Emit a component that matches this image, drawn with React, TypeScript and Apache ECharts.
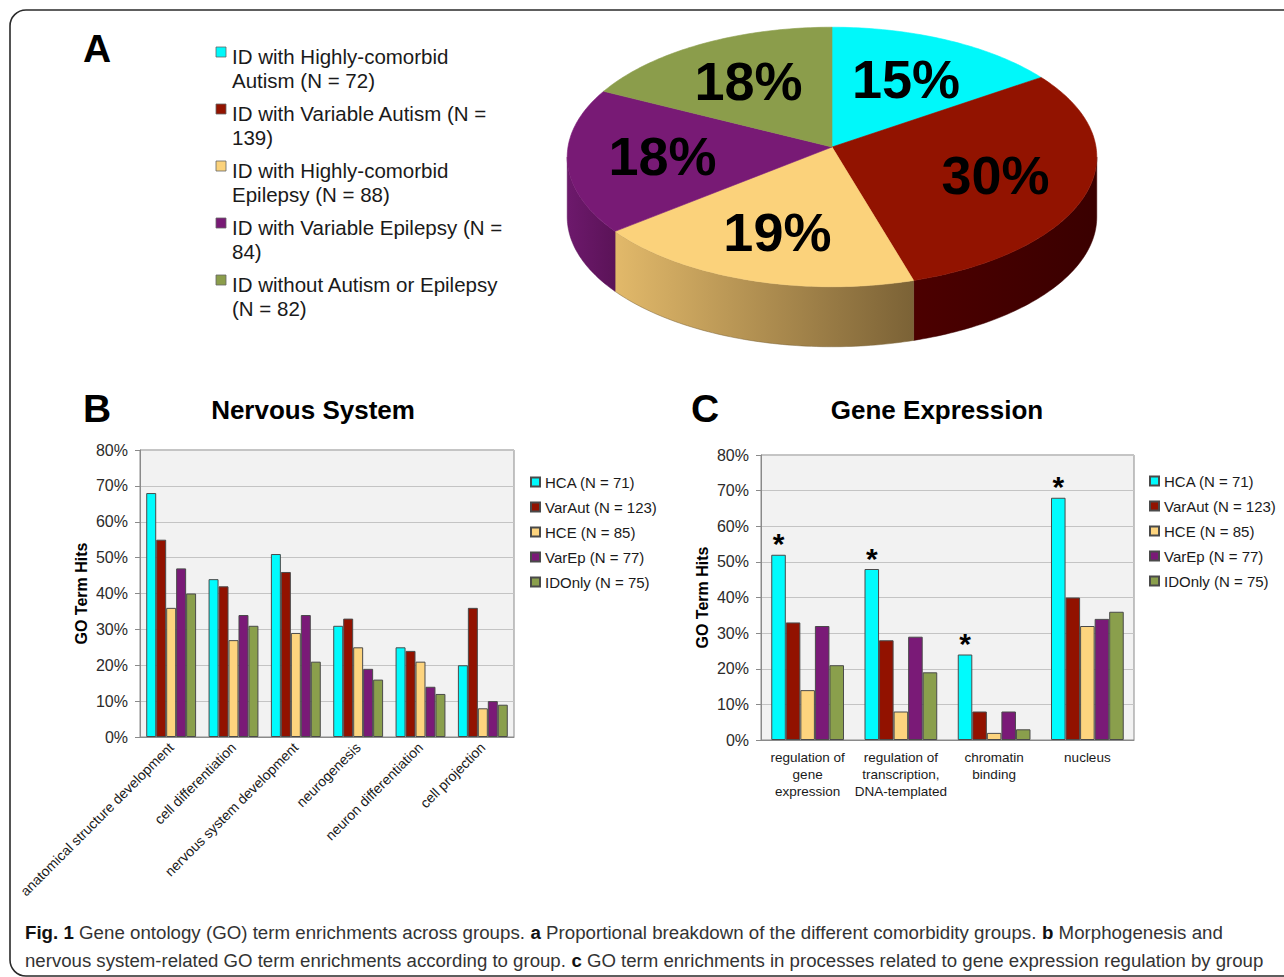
import React, { useEffect, useRef } from 'react';
import * as echarts from 'echarts';

// ---------- Panel A data ----------
const groupLabels = [
  'ID with Highly-comorbid\nAutism (N = 72)',
  'ID with Variable Autism (N =\n139)',
  'ID with Highly-comorbid\nEpilepsy (N = 88)',
  'ID with Variable Epilepsy (N =\n84)',
  'ID without Autism or Epilepsy\n(N = 82)',
];
const groupN = [72, 139, 88, 84, 82];

// ---------- Panels B & C data ----------
const seriesNames = ['HCA (N = 71)', 'VarAut (N = 123)', 'HCE (N = 85)', 'VarEp (N = 77)', 'IDOnly (N = 75)'];

const nervousCategories = [
  'anatomical structure development',
  'cell differentiation',
  'nervous system development',
  'neurogenesis',
  'neuron differentiation',
  'cell projection',
];
const nervousHCA = [68, 44, 51, 31, 25, 20];
const nervousVarAut = [55, 42, 46, 33, 24, 36];
const nervousHCE = [36, 27, 29, 25, 21, 8];
const nervousVarEp = [47, 34, 34, 19, 14, 10];
const nervousIDOnly = [40, 31, 21, 16, 12, 9];

const geneCategories = [
  'regulation of\ngene\nexpression',
  'regulation of\ntranscription,\nDNA-templated',
  'chromatin\nbinding',
  'nucleus',
];
const geneHCA = [52, 48, 24, 68];
const geneVarAut = [33, 28, 8, 40];
const geneHCE = [14, 8, 2, 32];
const geneVarEp = [32, 29, 8, 34];
const geneIDOnly = [21, 19, 3, 36];
const geneSignificant = [true, true, true, true];

const yMin = 0;
const yMax = 80;
const yStep = 10;

const captionLine1 =
  '{b|Fig. 1} Gene ontology (GO) term enrichments across groups. {b|a} Proportional breakdown of the different comorbidity groups. {b|b} Morphogenesis and';
const captionLine2 =
  'nervous system-related GO term enrichments according to group. {b|c} GO term enrichments in processes related to gene expression regulation by group';

// ---------- styles ----------
const FONT = '"Liberation Sans", Arial, Helvetica, sans-serif';
const barColors = ['#00fbfd', '#921200', '#fdd47e', '#7a1a77', '#8a9f4c'];
const pieTop = ['#00f8fa', '#921300', '#fbd27b', '#781a75', '#8b9d4b'];
const pieSide = [
  ['#00b5b8', '#008d90'],
  ['#4c0000', '#3a0000'],
  ['#e2b96a', '#7b6236'],
  ['#6d196c', '#5b1358'],
  ['#6e7e3b', '#5a682f'],
];

const PIE = { cx: 832, cy: 147, R: 264, T: 129, d: 13, depth: 60 };

function piePt(a: number, k = 1, dy = 0): number[] {
  const s = PIE.d / (PIE.d + Math.cos(a));
  return [PIE.cx + PIE.R * k * Math.sin(a) * s, PIE.cy - PIE.T * k * Math.cos(a) * s + dy];
}

function arc(a0: number, a1: number, dy = 0): number[][] {
  const n = Math.max(2, Math.ceil((a1 - a0) / (Math.PI / 180)));
  const pts: number[][] = [];
  for (let i = 0; i <= n; i++) pts.push(piePt(a0 + ((a1 - a0) * i) / n, 1, dy));
  return pts;
}

const renderPie = (params: any, api: any) => {
  const i = params.dataIndex;
  const total = groupN.reduce((s, v) => s + v, 0);
  let start = 0;
  for (let j = 0; j < i; j++) start += groupN[j];
  const v = api.value(0);
  const a0 = (start / total) * Math.PI * 2;
  const a1 = ((start + v) / total) * Math.PI * 2;
  const children: any[] = [];
  const silL = Math.acos(-1 / PIE.d);
  const silR = Math.PI * 2 - silL;
  const b0 = Math.max(a0, silL);
  const b1 = Math.min(a1, silR);
  if (b1 > b0) {
    const topArc = arc(b0, b1);
    const botArc = arc(b0, b1, PIE.depth).reverse();
    children.push({
      type: 'polygon',
      z2: 1,
      shape: { points: topArc.concat(botArc) },
      style: {
        fill: {
          type: 'linear', x: 0, y: 0, x2: 1, y2: 0,
          colorStops: [
            { offset: 0, color: pieSide[i][0] },
            { offset: 1, color: pieSide[i][1] },
          ],
        },
        stroke: pieSide[i][1],
        lineWidth: 0.5,
      },
    });
  }
  const top = [[PIE.cx, PIE.cy]].concat(arc(a0, a1));
  children.push({
    type: 'polygon',
    z2: 5,
    shape: { points: top },
    style: { fill: pieTop[i], stroke: pieTop[i], lineWidth: 0.6 },
  });
  const mid = (a0 + a1) / 2;
  const lp = piePt(mid, 0.64);
  children.push({
    type: 'text',
    z2: 10,
    style: {
      text: Math.round((v / total) * 100) + '%',
      x: lp[0],
      y: lp[1],
      fill: '#000',
      fontSize: 54,
      fontWeight: 'bold',
      fontFamily: FONT,
      align: 'center',
      verticalAlign: 'middle',
    },
  });
  return { type: 'group', children };
};

function buildOption(): any {
  const nervousSeries = [nervousHCA, nervousVarAut, nervousHCE, nervousVarEp, nervousIDOnly];
  const geneSeries = [geneHCA, geneVarAut, geneHCE, geneVarEp, geneIDOnly];

  const graphic: any[] = [
    {
      type: 'rect',
      shape: { x: 10, y: 10, width: 1300, height: 966, r: 16 },
      style: { fill: 'none', stroke: '#2a2a2a', lineWidth: 1.6 },
      silent: true,
    },
    { type: 'text', x: 97, y: 48, style: { text: 'A', font: `bold 39px ${FONT}`, fill: '#000', align: 'center', verticalAlign: 'middle' } },
    { type: 'text', x: 97, y: 408, style: { text: 'B', font: `bold 39px ${FONT}`, fill: '#000', align: 'center', verticalAlign: 'middle' } },
    { type: 'text', x: 705, y: 408, style: { text: 'C', font: `bold 39px ${FONT}`, fill: '#000', align: 'center', verticalAlign: 'middle' } },
    { type: 'text', x: 313, y: 410, style: { text: 'Nervous System', font: `bold 26px ${FONT}`, fill: '#000', align: 'center', verticalAlign: 'middle' } },
    { type: 'text', x: 937, y: 410, style: { text: 'Gene Expression', font: `bold 26px ${FONT}`, fill: '#000', align: 'center', verticalAlign: 'middle' } },
  ];
  groupLabels.forEach((lab, i) => {
    graphic.push({
      type: 'rect',
      shape: { x: 216, y: 47 + 57 * i, width: 10, height: 10 },
      style: { fill: pieTop[i], stroke: '#666', lineWidth: 0.8 },
    });
    graphic.push({
      type: 'text',
      x: 232,
      y: 44 + 57 * i,
      style: { text: lab, font: `20.5px ${FONT}`, lineHeight: 24, fill: '#1a1a1a', align: 'left', verticalAlign: 'top' },
    });
  });
  const capRich = { b: { fontWeight: 'bold', fill: '#111', color: '#111', fontSize: 19, fontFamily: FONT } };
  graphic.push({
    type: 'text', x: 25, y: 932, scaleX: 0.985,
    style: { text: captionLine1, rich: capRich, fontSize: 19, fontFamily: FONT, fill: '#333', align: 'left', verticalAlign: 'middle' },
  });
  graphic.push({
    type: 'text', x: 25, y: 960, scaleX: 0.98,
    style: { text: captionLine2, rich: capRich, fontSize: 19, fontFamily: FONT, fill: '#333', align: 'left', verticalAlign: 'middle' },
  });

  const yAxisBase = (gridIndex: number) => ({
    type: 'value',
    gridIndex,
    min: yMin,
    max: yMax,
    interval: yStep,
    name: 'GO Term Hits',
    nameLocation: 'middle',
    nameGap: 51,
    nameRotate: 90,
    nameTextStyle: { fontSize: 16, fontWeight: 'bold', color: '#000', fontFamily: FONT },
    axisLine: { show: true, lineStyle: { color: '#8a8a8a' } },
    axisTick: { show: true, length: 5, lineStyle: { color: '#8a8a8a' } },
    axisLabel: { formatter: '{value}%', fontSize: 16, color: '#2b2b2b', margin: 12, fontFamily: FONT },
    splitLine: { show: true, lineStyle: { color: '#c4c4c4', width: 1 } },
  });

  const barBase = {
    type: 'bar',
    barGap: '0%',
    itemStyle: { borderColor: '#4a4a4a', borderWidth: 1 },
  };

  const series: any[] = [
    {
      type: 'custom',
      name: 'groups',
      coordinateSystem: 'none',
      renderItem: renderPie,
      data: groupN,
      silent: true,
    },
  ];
  nervousSeries.forEach((d, k) => {
    series.push({
      ...barBase,
      name: seriesNames[k],
      xAxisIndex: 0,
      yAxisIndex: 0,
      barCategoryGap: '20%',
      data: d,
      itemStyle: { ...barBase.itemStyle, color: barColors[k] },
    });
  });
  geneSeries.forEach((d, k) => {
    series.push({
      ...barBase,
      name: seriesNames[k],
      xAxisIndex: 1,
      yAxisIndex: 1,
      barCategoryGap: '22%',
      data: d,
      itemStyle: { ...barBase.itemStyle, color: barColors[k] },
      label:
        k === 0
          ? {
              show: true,
              position: 'top',
              distance: -4,
              formatter: (p: any) => (geneSignificant[p.dataIndex] ? '*' : ''),
              fontSize: 30,
              fontWeight: 'bold',
              color: '#000',
              fontFamily: FONT,
            }
          : { show: false },
    });
  });

  const legendBase = {
    data: seriesNames,
    orient: 'vertical',
    itemWidth: 9,
    itemHeight: 9,
    itemGap: 9,
    padding: 0,
    icon: 'rect',
    selectedMode: false,
    textStyle: { fontSize: 15, color: '#1a1a1a', lineHeight: 16, fontFamily: FONT },
  };

  return {
    animation: false,
    backgroundColor: '#ffffff',
    textStyle: { fontFamily: FONT },
    graphic,
    legend: [
      { ...legendBase, left: 530, top: 474 },
      { ...legendBase, left: 1149, top: 473 },
    ],
    grid: [
      { left: 140, top: 450, width: 374, height: 287, show: true, backgroundColor: '#f2f2f2', borderColor: '#8a8a8a', borderWidth: 1 },
      { left: 761, top: 455, width: 373, height: 285, show: true, backgroundColor: '#f2f2f2', borderColor: '#8a8a8a', borderWidth: 1 },
    ],
    xAxis: [
      {
        type: 'category',
        gridIndex: 0,
        data: nervousCategories,
        axisLine: { lineStyle: { color: '#8a8a8a' } },
        axisTick: { show: false },
        axisLabel: { interval: 0, rotate: 45, fontSize: 14, color: '#1a1a1a', margin: 8, fontFamily: FONT },
      },
      {
        type: 'category',
        gridIndex: 1,
        data: geneCategories,
        axisLine: { lineStyle: { color: '#8a8a8a' } },
        axisTick: { show: false },
        axisLabel: { interval: 0, fontSize: 13.5, lineHeight: 17, color: '#1a1a1a', margin: 9, fontFamily: FONT },
      },
    ],
    yAxis: [yAxisBase(0), yAxisBase(1)],
    series,
  };
}

export default function App() {
  const ref = useRef<HTMLDivElement>(null);
  useEffect(() => {
    if (!ref.current) return;
    const chart = echarts.init(ref.current, null, { renderer: 'svg' });
    chart.setOption(buildOption());
    return () => chart.dispose();
  }, []);
  return (
    <div
      ref={ref}
      style={{ position: 'fixed', left: 0, top: 0, width: 1284, height: 977, background: '#fff' }}
    />
  );
}
